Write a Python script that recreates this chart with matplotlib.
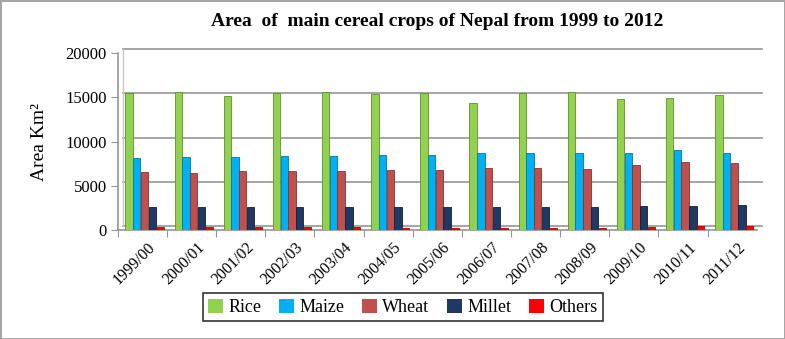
import numpy as np
import matplotlib
matplotlib.use('Agg')
import matplotlib.pyplot as plt
import matplotlib.transforms as mtransforms

plt.rcParams['font.family'] = ['Liberation Serif', 'DejaVu Serif']

# data (km^2)
years = ['1999/00', '2000/01', '2001/02', '2002/03', '2003/04', '2004/05', '2005/06',
         '2006/07', '2007/08', '2008/09', '2009/10', '2010/11', '2011/12']
rice = [15510, 15600, 15160, 15450, 15590, 15420, 15490, 14390, 15490, 15560, 14810, 14960, 15310]
maize = [8190, 8250, 8260, 8350, 8400, 8500, 8500, 8700, 8700, 8750, 8750, 9060, 8720]
wheat = [6600, 6410, 6670, 6680, 6650, 6760, 6730, 7020, 7060, 6950, 7360, 7680, 7630]
millet = [2600, 2600, 2590, 2600, 2600, 2600, 2610, 2630, 2640, 2650, 2670, 2700, 2780]
others = [300, 300, 300, 300, 300, 280, 280, 280, 280, 280, 300, 420, 400]

series = [('Rice', rice, '#92D050', '#5f8f2a'),
          ('Maize', maize, '#00B0F0', '#0077a8'),
          ('Wheat', wheat, '#C0504D', '#8a3331'),
          ('Millet', millet, '#1F3864', '#111f3a'),
          ('Others', others, '#FF0000', '#b00000')]

fig = plt.figure(figsize=(7.85, 3.39), dpi=100)
fig.patch.set_edgecolor('#a6a6a6')
fig.patch.set_linewidth(2)

ax = fig.add_axes([0.150, 0.3215, 0.814, 0.522])
x = np.arange(len(years))
w = 0.15
for k, (name, vals, col, ec) in enumerate(series):
    ax.bar(x - 0.27 + k * 0.157, vals, width=w, color=col, edgecolor=ec,
           linewidth=0.6, label=name, zorder=3)

ax.set_xlim(-0.5, len(years) - 0.5)
ax.set_ylim(0, 20000)
ax.set_yticks([0, 5000, 10000, 15000, 20000])

# back wall gridlines, shifted as in the 3D chart
off = mtransforms.ScaledTranslation(5 / 100, 4 / 100, fig.dpi_scale_trans)
for v in [5000, 10000, 15000, 20000]:
    ax.plot([-0.5, len(years) - 0.5], [v, v], color='#969696', lw=1.2,
            transform=ax.transData + off, clip_on=False, zorder=1)
# floor back edge and wall corner
ax.plot([-0.5, len(years) - 0.5], [0, 0], color='#969696', lw=1.2,
        transform=ax.transData + off, clip_on=False, zorder=1)
ax.plot([-0.5, -0.5], [0, 20000], color='#c8c8c8', lw=1,
        transform=ax.transData + off, clip_on=False, zorder=1)

for s in ['top', 'right']:
    ax.spines[s].set_visible(False)
for s in ['left', 'bottom']:
    ax.spines[s].set_color('#969696')
    ax.spines[s].set_linewidth(1.2)
ax.set_facecolor('none')

ax.set_xticks(x - 0.5, minor=False)
ax.set_xticks(x, minor=True)
ax.set_xticklabels([])
ax.set_xticklabels(years, minor=True, rotation=45, ha='right',
                   rotation_mode='anchor', fontsize=11.5)
ax.tick_params(axis='x', which='major', length=5, color='#969696')
ax.tick_params(axis='x', which='minor', length=0, pad=7)
ax.tick_params(axis='y', length=5, color='#969696', labelsize=12, pad=3)
for lab in ax.get_xticklabels(minor=True):
    lab.set_transform(lab.get_transform() + mtransforms.ScaledTranslation(5 / 100, 0, fig.dpi_scale_trans))

ax.set_ylabel('Area Km²', fontsize=14, labelpad=12)
fig.text(0.557, 0.937, 'Area  of  main cereal crops of Nepal from 1999 to 2012',
         ha='center', va='center', fontsize=14, fontweight='bold')

leg = fig.legend(loc='center', bbox_to_anchor=(0.513, 0.093), ncol=5, fontsize=13,
                 frameon=True, fancybox=False, handlelength=0.8, handleheight=0.8,
                 handletextpad=0.3, columnspacing=1.0, borderpad=0.3)
leg.get_frame().set_edgecolor('black')
leg.get_frame().set_linewidth(1.2)
for h in leg.legend_handles:
    h.set_edgecolor('none')

fig.savefig('out.png', dpi=100)
